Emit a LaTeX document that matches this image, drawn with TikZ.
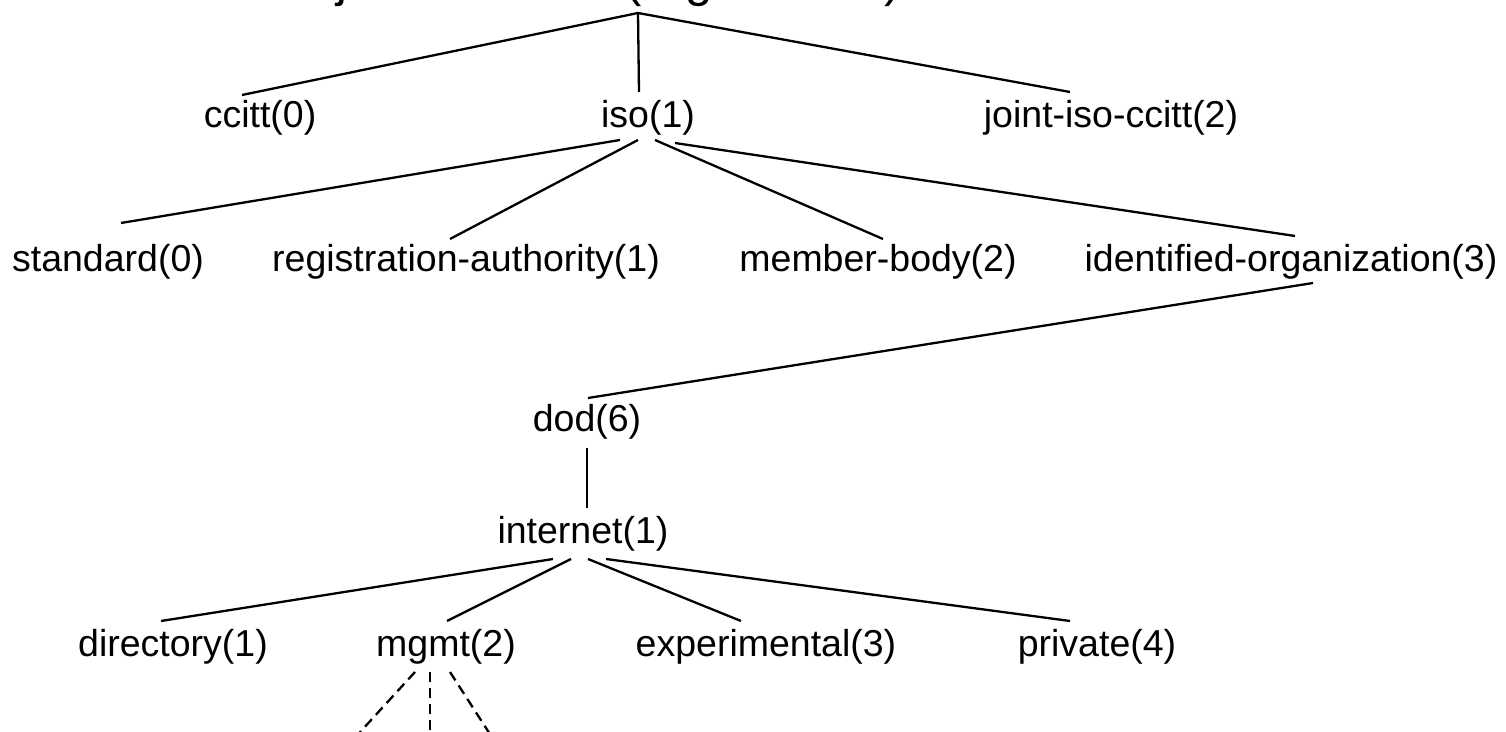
\documentclass[tikz,border=0pt]{standalone}
\usepackage{fontspec}
\setmainfont{Liberation Sans}
\usepackage{tikz}
\tikzset{
    oid-label/.style = {inner sep=0pt, anchor=base, font=\fontsize{18.75}{22}\selectfont},
    oid-title/.style = {inner sep=0pt, anchor=base, font=\fontsize{24.5}{29}\selectfont},
    oid-edge/.style = {line width=1.15pt},
    oid-open/.style = {line width=1.15pt, dash pattern=on 5pt off 3pt},
}

\begin{document}
\begin{tikzpicture}[x=0.5pt, y=-0.5pt]
\useasboundingbox (0,0) rectangle (1506,732);
\clip (0,0) rectangle (1506,732);
\node[oid-title] (title) at (591.5,-3) {object identifier (registration)};
\node[oid-label] (ccitt) at (260,128) {ccitt(0)};
\node[oid-label] (iso) at (648,128) {iso(1)};
\node[oid-label] (joint) at (1111,128) {joint-iso-ccitt(2)};
\node[oid-label] (standard) at (108,272) {standard(0)};
\node[oid-label] (regauth) at (466,272) {registration-authority(1)};
\node[oid-label] (member) at (878,272) {member-body(2)};
\node[oid-label] (identorg) at (1291,272) {identified-organization(3)};
\node[oid-label] (dod) at (587,432) {dod(6)};
\node[oid-label] (internet) at (583,544) {internet(1)};
\node[oid-label] (directory) at (173,656) {directory(1)};
\node[oid-label] (mgmt) at (446,656) {mgmt(2)};
\node[oid-label] (experimental) at (766,656) {experimental(3)};
\node[oid-label] (private) at (1097,656) {private(4)};
\coordinate (mgmt-a) at (351,742);
\coordinate (mgmt-b) at (430,742);
\coordinate (mgmt-c) at (495,742);

\draw[oid-edge] ([shift={(46.5,16)}]title.base) -- ([shift={(-18,-33)}]ccitt.base);
\draw[oid-edge] ([shift={(46.5,16)}]title.base) -- ([shift={(-9,-36)}]iso.base);
\draw[oid-edge] ([shift={(46.5,16)}]title.base) -- ([shift={(-41,-36)}]joint.base);
\draw[oid-edge] ([shift={(-28,12)}]iso.base) -- ([shift={(13,-49)}]standard.base);
\draw[oid-edge] ([shift={(-10,12)}]iso.base) -- ([shift={(-16,-33)}]regauth.base);
\draw[oid-edge] ([shift={(7,12)}]iso.base) -- ([shift={(5,-33)}]member.base);
\draw[oid-edge] ([shift={(27,15)}]iso.base) -- ([shift={(4,-36)}]identorg.base);
\draw[oid-edge] ([shift={(22,11)}]identorg.base) -- ([shift={(1,-34)}]dod.base);
\draw[oid-edge] ([shift={(0,16)}]dod.base) -- ([shift={(4,-36)}]internet.base);
\draw[oid-edge] ([shift={(-30,15)}]internet.base) -- ([shift={(-12,-35)}]directory.base);
\draw[oid-edge] ([shift={(-12,15)}]internet.base) -- ([shift={(1,-35)}]mgmt.base);
\draw[oid-edge] ([shift={(5,15)}]internet.base) -- ([shift={(-25,-35)}]experimental.base);
\draw[oid-edge] ([shift={(23,15)}]internet.base) -- ([shift={(-27,-35)}]private.base);
\draw[oid-open] ([shift={(-31,16)}]mgmt.base) -- (mgmt-a);
\draw[oid-open] ([shift={(-16,16)}]mgmt.base) -- (mgmt-b);
\draw[oid-open] ([shift={(4,16)}]mgmt.base) -- (mgmt-c);
\end{tikzpicture}
\end{document}
